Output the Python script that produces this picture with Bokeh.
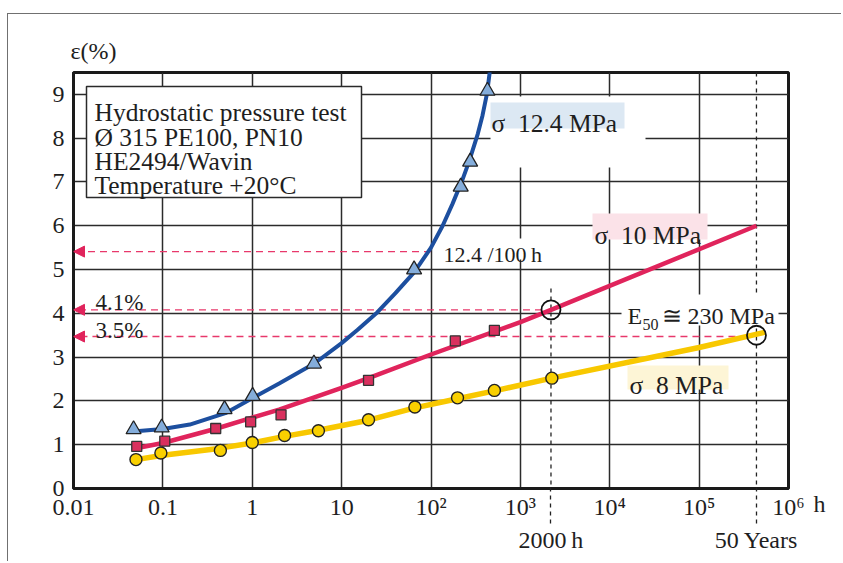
import math
from bokeh.plotting import figure
from bokeh.models import (Range1d, FixedTicker, Label, Arrow, NormalHead, LogAxis, LinearAxis)
from bokeh.embed import file_html
from bokeh.resources import INLINE

# ---------------- data ----------------
# sigma 12.4 MPa : measured points (triangles) and fitted curve
t_124 = [0.047, 0.097, 0.49, 1.01, 4.9, 64.7, 215, 274, 428]
e_124 = [1.35, 1.39, 1.81, 2.11, 2.85, 5.0, 6.89, 7.46, 9.08]
fit_t_124 = [0.05, 0.1, 0.2, 0.5, 1, 2, 5, 10, 15, 25, 40, 65, 100, 135, 174, 222, 267, 334, 377, 424, 452, 465]
fit_e_124 = [1.31, 1.36, 1.46, 1.72, 2.06, 2.4, 2.86, 3.32, 3.62, 4.02, 4.46, 4.94, 5.5, 6.0, 6.5, 7.02, 7.47, 8.1, 8.52, 9.03, 9.48, 9.75]

# sigma 10 MPa : squares and fitted curve
t_10 = [0.051, 0.105, 0.39, 0.96, 2.1, 20, 187, 512]
e_10 = [0.96, 1.08, 1.37, 1.52, 1.68, 2.47, 3.37, 3.61]
fit_t_10 = [0.05, 0.1, 0.4, 1, 2, 10, 20, 100, 1000, 2200, 438000]
fit_e_10 = [0.92, 1.04, 1.37, 1.62, 1.8, 2.3, 2.52, 3.06, 3.8, 4.08, 6.0]

# sigma 8 MPa : circles and fitted curve
t_8 = [0.05, 0.095, 0.44, 1.0, 2.3, 5.5, 20, 66, 198, 512, 2250]
e_8 = [0.66, 0.81, 0.87, 1.05, 1.21, 1.32, 1.57, 1.86, 2.07, 2.24, 2.52]
fit_t_8 = [0.05, 0.1, 0.4, 1, 2.3, 5.5, 20, 66, 198, 512, 2250, 100000, 550000]
fit_e_8 = [0.66, 0.76, 0.91, 1.04, 1.19, 1.33, 1.56, 1.84, 2.05, 2.23, 2.52, 3.22, 3.57]

# marked points (2000 h on sigma 10, 50 years on sigma 8)
mark_t = [2200, 438000]
mark_e = [4.08, 3.5]
mark_labels = ["2000\u2009h", "50 Years"]

# reference levels read back to the strain axis
ref_e = [5.41, 4.08, 3.47]
ref_t = [100, 2200, 438000]

x_ticks = [0.01, 0.1, 1, 10, 100, 1000, 10000, 100000, 1000000]
x_tick_labels = ["0.01", "0.1", "1", "10", "10\u00b2", "10\u00b3", "10\u2074", "10\u2075", "10\u2076"]
x_unit = "h"
y_ticks = [0, 1, 2, 3, 4, 5, 6, 7, 8, 9]

# ---------------- styling ----------------
FONT = "Liberation Serif"
TXT = "#1e1e1e"
BLUE = "#1d4f9f"
PINK = "#e0245c"
YEL = "#f8c800"
TRI_FILL = "#84addb"
SQ_FILL = "#d9305e"
CIR_FILL = "#f9d000"
BG_BLUE = "#dce8f3"
BG_PINK = "#fbe2e8"
BG_YEL = "#fdf5d6"
DASH_PINK = "#e8386b"
GRID = "#2b2b2b"

OX, OY = 8, 14                      # canvas origin on the page (after css margin + border)
W, H = 834, 548
FX0, FY0 = 73 - OX, 72 - OY         # frame edges in canvas px
FX1, FY1 = 788 - OX, 488 - OY
ML, MT, MR, MB = FX0, FY0, W - FX1, H - FY1
XMIN, XMAX, YMIN, YMAX = 0.01, 1e6, 0.0, 9.5


def X(page_px):
    lo, hi = math.log10(XMIN), math.log10(XMAX)
    return 10 ** (lo + (hi - lo) * (page_px - OX - FX0) / (FX1 - FX0))


def Y(page_py):
    return YMIN + (YMAX - YMIN) * (FY1 - (page_py - OY)) / (FY1 - FY0)


def PX(t):
    lo, hi = math.log10(XMIN), math.log10(XMAX)
    return OX + FX0 + (math.log10(t) - lo) / (hi - lo) * (FX1 - FX0)


p = figure(width=W, height=H, x_axis_type="log",
           x_range=Range1d(XMIN, XMAX), y_range=Range1d(YMIN, YMAX),
           output_backend="svg", toolbar_location=None,
           min_border_left=ML, min_border_top=MT, min_border_right=MR, min_border_bottom=MB)
p.styles = {"margin-left": "7px", "margin-top": "13px",
            "border-left": "1px solid #707070", "border-top": "1px solid #707070"}
p.background_fill_color = "white"
p.border_fill_color = "white"
p.outline_line_color = "#1a1a1a"
p.outline_line_width = 3

# title used as the strain-axis caption
p.title.text = "\u03b5(%)"
p.title.align = "left"
p.title.offset = -3
p.title.standoff = 17
p.title.text_font = FONT
p.title.text_font_size = "24px"
p.title.text_font_style = "normal"
p.title.text_color = TXT

for ax in (p.xaxis[0], p.yaxis[0]):
    ax.axis_line_width = 3
    ax.axis_line_color = "#1a1a1a"
    ax.major_tick_line_color = None
    ax.major_tick_out = 0
    ax.major_tick_in = 0
    ax.minor_tick_line_color = None
    ax.minor_tick_out = 0
    ax.major_label_text_font = FONT
    ax.major_label_text_font_size = "24px"
    ax.major_label_text_color = TXT

xa = p.xaxis[0]
xa.ticker = FixedTicker(ticks=x_ticks)
xa.major_label_overrides = {t: s for t, s in zip(x_ticks, x_tick_labels)}
xa.major_label_standoff = 5
p.yaxis.ticker = FixedTicker(ticks=y_ticks)
p.yaxis.major_label_standoff = 9

# second axis row: dashed time-mark lines (ticks pointing up to the frame) and captions
ax_marks = LogAxis(ticker=FixedTicker(ticks=mark_t),
                   major_label_overrides={t: s for t, s in zip(mark_t, mark_labels)},
                   axis_line_color=None, major_tick_in=35, major_tick_out=1,
                   major_tick_line_color="#222", major_tick_line_dash="4 4",
                   major_tick_line_width=1.3, minor_tick_line_color=None, minor_tick_out=0,
                   major_label_standoff=3, major_label_text_font=FONT,
                   major_label_text_font_size="24px", major_label_text_color=TXT)
p.add_layout(ax_marks, "below")

# unit "h" after 10^6, as a right-hand axis label level with the frame bottom
ax_unit = LinearAxis(ticker=FixedTicker(ticks=[YMIN]),
                     major_label_overrides={YMIN: "\n" + x_unit},
                     axis_line_color=None, major_tick_line_color=None, major_tick_out=0,
                     minor_tick_line_color=None, minor_tick_out=0,
                     major_label_standoff=25, major_label_text_font=FONT,
                     major_label_text_font_size="24px", major_label_text_color=TXT)
p.add_layout(ax_unit, "right")

p.xgrid.ticker = FixedTicker(ticks=x_ticks)
p.ygrid.ticker = FixedTicker(ticks=y_ticks)
for g in (p.xgrid[0], p.ygrid[0]):
    g.grid_line_color = GRID
    g.grid_line_width = 1.5

# vertical dashed time markers (inside frame), drawn before label boxes
p.segment(x0=[mark_t[0]], y0=[Y(288)], x1=[mark_t[0]], y1=[YMIN],
          line_color="#222", line_dash="4 4", line_width=1.3)
p.segment(x0=[mark_t[1]], y0=[YMAX], x1=[mark_t[1]], y1=[YMIN],
          line_color="#222", line_dash="4 4", line_width=1.3)


def box(x0, y0, x1, y1, fill, line=None, lw=1.0):
    p.quad(left=[X(x0)], right=[X(x1)], top=[Y(y0)], bottom=[Y(y1)],
           fill_color=fill, line_color=line, line_width=lw)


# white knock-out areas and coloured label backgrounds
box(490, 96, 645, 167, "white")
box(490, 102, 624, 128, BG_BLUE)
box(592, 213, 707, 239, BG_PINK)
box(441, 238, 548, 259, "white")
box(621, 294, 778, 325, "white")
box(627, 365, 728, 389, BG_YEL)
box(86, 86, 361, 197, "white", line="#2a2a2a", lw=1.5)

# pink dashed read-back lines
x_ends = [ref_t[0], X(PX(ref_t[1]) - 9), X(PX(ref_t[2]) - 9)]
p.segment(x0=x_ends, y0=ref_e, x1=[XMIN] * 3, y1=ref_e,
          line_color=DASH_PINK, line_dash="7 5", line_width=1.4)
for lvl in ref_e:
    p.add_layout(Arrow(end=NormalHead(size=11, fill_color=PINK, line_color=PINK, line_width=1),
                       x_start=X(73 + 14), y_start=lvl, x_end=XMIN, y_end=lvl,
                       line_alpha=0))

# curves
p.line(fit_t_8, fit_e_8, line_color=YEL, line_width=5.5)
p.line(fit_t_10, fit_e_10, line_color=PINK, line_width=4.5)
p.line(fit_t_124, fit_e_124, line_color=BLUE, line_width=4)

# measured points
p.scatter(t_8, e_8, marker="circle", size=12, fill_color=CIR_FILL, line_color="#222", line_width=1.4)
p.scatter(t_10, e_10, marker="square", size=10, fill_color=SQ_FILL, line_color="#333", line_width=1.3)
p.scatter(t_124, e_124, marker="triangle", size=15, fill_color=TRI_FILL, line_color="#222", line_width=1.3)

# big marking circles
p.scatter(mark_t, mark_e, marker="circle", size=19, fill_color=None, line_color="#111", line_width=1.8)


def lab(px, py, text, size="24px", align="left", baseline="alphabetic"):
    p.add_layout(Label(x=X(px), y=Y(py), text=text, text_font=FONT, text_font_size=size,
                       text_color=TXT, text_align=align, text_baseline=baseline))


lab(94, 112, "Hydrostatic pressure test", size="25.5px")
lab(94, 136.5, "\u00d8 315 PE100, PN10", size="25.5px")
lab(94, 160.5, "HE2494/Wavin", size="25.5px")
lab(94, 185, "Temperature +20\u00b0C", size="25.5px")
lab(491, 123, "\u03c3\u00a0 12.4 MPa", size="25.5px")
lab(594, 235, "\u03c3\u00a0 10 MPa", size="25.5px")
lab(629, 385, "\u03c3\u00a0 8 MPa", size="25.5px")
lab(443, 254, "12.4 /100\u2009h", size="22px")
lab(95, 301.5, "4.1%", size="23px")
lab(95, 330, "3.5%", size="23px")
lab(627, 315, "E", size="24px")
lab(642, 324, "50", size="16px")
lab(661, 315, "\u2245 230 MPa", size="24px")

open("out.html", "w").write(file_html(p, INLINE))
